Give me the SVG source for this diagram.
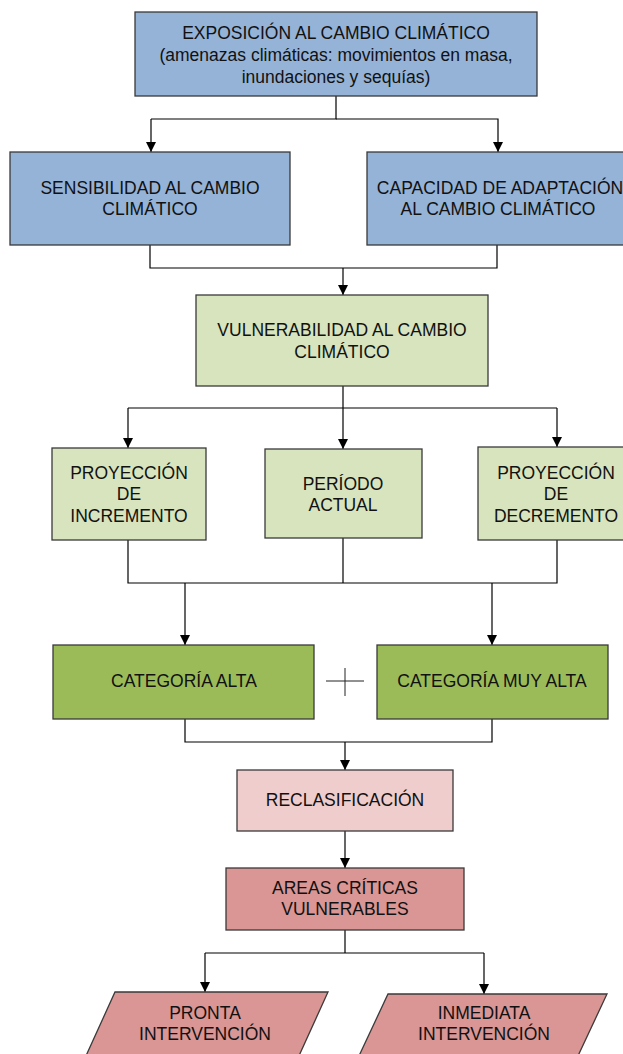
<svg xmlns="http://www.w3.org/2000/svg" width="623" height="1054" viewBox="0 0 623 1054">
<style>
  .box { stroke: #3a3a3a; stroke-width: 1.3; }
  .blue { fill: #95B3D7; }
  .lgreen { fill: #D7E4BD; }
  .green { fill: #9BBB59; }
  .lpink { fill: #EECDCC; }
  .pink { fill: #D99694; }
  .t { font-family: "Liberation Sans", Arial, sans-serif; font-size: 17.5px; fill: #111; text-anchor: middle; }
  .c { fill: none; stroke: #000; stroke-width: 1.2; }
</style>
<defs>
  <marker id="arr" viewBox="0 0 10 10" refX="10" refY="5" markerWidth="10" markerHeight="10" markerUnits="userSpaceOnUse" orient="auto">
    <path d="M0,0 L10,5 L0,10 Z" fill="#000"/>
  </marker>
</defs>
<rect width="623" height="1054" fill="#fff"/>

<g id="connectors">
  <path class="c" d="M336,96 V119 H151"/>
  <path class="c" d="M151,119 V152" marker-end="url(#arr)"/>
  <path class="c" d="M336,119 H498 V152" marker-end="url(#arr)"/>
  <path class="c" d="M150,245 V268 H497 V245"/>
  <path class="c" d="M343,268 V295" marker-end="url(#arr)"/>
  <path class="c" d="M343,386 V408"/>
  <path class="c" d="M128,408 H557"/>
  <path class="c" d="M128,408 V448" marker-end="url(#arr)"/>
  <path class="c" d="M343,408 V449" marker-end="url(#arr)"/>
  <path class="c" d="M557,408 V447" marker-end="url(#arr)"/>
  <path class="c" d="M128,540 V583 H557 V540"/>
  <path class="c" d="M343,538 V583"/>
  <path class="c" d="M185,583 V645" marker-end="url(#arr)"/>
  <path class="c" d="M492,583 V645" marker-end="url(#arr)"/>
  <path class="c" d="M185,719 V742 H492 V719"/>
  <path class="c" d="M345,742 V770" marker-end="url(#arr)"/>
  <path class="c" d="M345,831 V868" marker-end="url(#arr)"/>
  <path class="c" d="M345,930 V953"/>
  <path class="c" d="M205,953 H484"/>
  <path class="c" d="M205,953 V992" marker-end="url(#arr)"/>
  <path class="c" d="M484,953 V994" marker-end="url(#arr)"/>
</g>

<g id="plus">
  <path d="M326,681 H364 M345,668 V696" stroke="#222" stroke-width="1" fill="none"/>
</g>

<g id="exposicion">
  <rect class="box blue" x="135" y="12" width="402" height="84"/>
  <text class="t" x="336" y="39">EXPOSICIÓN AL CAMBIO CLIMÁTICO</text>
  <text class="t" x="336" y="61">(amenazas climáticas: movimientos en masa,</text>
  <text class="t" x="336" y="83">inundaciones y sequías)</text>
</g>

<g id="sensibilidad">
  <rect class="box blue" x="10" y="152" width="280" height="93"/>
  <text class="t" x="150" y="194">SENSIBILIDAD AL CAMBIO</text>
  <text class="t" x="150" y="215">CLIMÁTICO</text>
</g>

<g id="capacidad">
  <rect class="box blue" x="367" y="152" width="270" height="93"/>
  <text class="t" x="500" y="194">CAPACIDAD DE ADAPTACIÓN</text>
  <text class="t" x="498" y="215">AL CAMBIO CLIMÁTICO</text>
</g>

<g id="vulnerabilidad">
  <rect class="box lgreen" x="196" y="295" width="292" height="91"/>
  <text class="t" x="342" y="336">VULNERABILIDAD AL CAMBIO</text>
  <text class="t" x="342" y="358">CLIMÁTICO</text>
</g>

<g id="incremento">
  <rect class="box lgreen" x="52" y="448" width="154" height="92"/>
  <text class="t" x="129" y="479">PROYECCIÓN</text>
  <text class="t" x="129" y="500">DE</text>
  <text class="t" x="129" y="522">INCREMENTO</text>
</g>

<g id="actual">
  <rect class="box lgreen" x="265" y="449" width="157" height="89"/>
  <text class="t" x="343" y="490">PERÍODO</text>
  <text class="t" x="343" y="511">ACTUAL</text>
</g>

<g id="decremento">
  <rect class="box lgreen" x="478" y="447" width="156" height="93"/>
  <text class="t" x="556" y="479">PROYECCIÓN</text>
  <text class="t" x="556" y="500">DE</text>
  <text class="t" x="556" y="522">DECREMENTO</text>
</g>

<g id="alta">
  <rect class="box green" x="53" y="645" width="261" height="74"/>
  <text class="t" x="184" y="687">CATEGORÍA ALTA</text>
</g>

<g id="muyalta">
  <rect class="box green" x="377" y="645" width="231" height="74"/>
  <text class="t" x="492" y="687">CATEGORÍA MUY ALTA</text>
</g>

<g id="reclasificacion">
  <rect class="box lpink" x="237" y="770" width="216" height="61"/>
  <text class="t" x="345" y="806">RECLASIFICACIÓN</text>
</g>

<g id="areas">
  <rect class="box pink" x="226" y="868" width="238" height="62"/>
  <text class="t" x="345" y="894">AREAS CRÍTICAS</text>
  <text class="t" x="345" y="915">VULNERABLES</text>
</g>

<g id="pronta">
  <path class="box pink" d="M115,992 H328 L298,1058 H85 Z"/>
  <text class="t" x="205" y="1019">PRONTA</text>
  <text class="t" x="205" y="1040">INTERVENCIÓN</text>
</g>

<g id="inmediata">
  <path class="box pink" d="M388,994 H607 L577,1058 H358 Z"/>
  <text class="t" x="484" y="1019">INMEDIATA</text>
  <text class="t" x="484" y="1040">INTERVENCIÓN</text>
</g>
</svg>
